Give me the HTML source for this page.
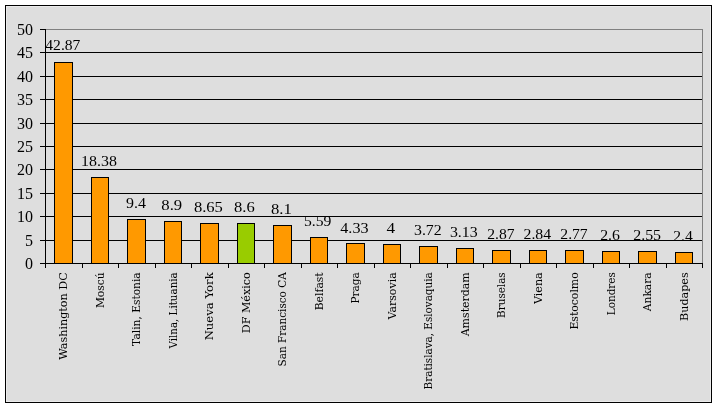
<!DOCTYPE html>
<html><head><meta charset="utf-8"><style>html,body{margin:0;padding:0;background:#fff;}svg{display:block;will-change:transform;}</style></head>
<body><svg width="717" height="407" viewBox="0 0 717 407">
<g shape-rendering="crispEdges">
<rect x="0" y="0" width="717" height="407" fill="#FFFFFF"/>
<rect x="5" y="5" width="707" height="398" fill="#000"/>
<rect x="6" y="6" width="705" height="396" fill="#EBEBEB"/>
<rect x="7" y="7" width="703" height="394" fill="#DEDEDE"/>
<rect x="45" y="29" width="658" height="1" fill="#808080"/>
<rect x="702" y="29" width="1" height="234" fill="#808080"/>
<rect x="45" y="240" width="657" height="1" fill="#000"/>
<rect x="45" y="216" width="657" height="1" fill="#000"/>
<rect x="45" y="193" width="657" height="1" fill="#000"/>
<rect x="45" y="169" width="657" height="1" fill="#000"/>
<rect x="45" y="146" width="657" height="1" fill="#000"/>
<rect x="45" y="123" width="657" height="1" fill="#000"/>
<rect x="45" y="99" width="657" height="1" fill="#000"/>
<rect x="45" y="76" width="657" height="1" fill="#000"/>
<rect x="45" y="52" width="657" height="1" fill="#000"/>
<rect x="40" y="263" width="5" height="1" fill="#000"/>
<rect x="40" y="240" width="5" height="1" fill="#000"/>
<rect x="40" y="216" width="5" height="1" fill="#000"/>
<rect x="40" y="193" width="5" height="1" fill="#000"/>
<rect x="40" y="169" width="5" height="1" fill="#000"/>
<rect x="40" y="146" width="5" height="1" fill="#000"/>
<rect x="40" y="123" width="5" height="1" fill="#000"/>
<rect x="40" y="99" width="5" height="1" fill="#000"/>
<rect x="40" y="76" width="5" height="1" fill="#000"/>
<rect x="40" y="52" width="5" height="1" fill="#000"/>
<rect x="40" y="29" width="5" height="1" fill="#000"/>
<rect x="54" y="62" width="19" height="201" fill="#000"/>
<rect x="55" y="63" width="17" height="200" fill="#FF9900"/>
<rect x="91" y="177" width="18" height="86" fill="#000"/>
<rect x="92" y="178" width="16" height="85" fill="#FF9900"/>
<rect x="127" y="219" width="19" height="44" fill="#000"/>
<rect x="128" y="220" width="17" height="43" fill="#FF9900"/>
<rect x="164" y="221" width="18" height="42" fill="#000"/>
<rect x="165" y="222" width="16" height="41" fill="#FF9900"/>
<rect x="200" y="223" width="19" height="40" fill="#000"/>
<rect x="201" y="224" width="17" height="39" fill="#FF9900"/>
<rect x="237" y="223" width="18" height="40" fill="#000"/>
<rect x="238" y="224" width="16" height="39" fill="#99CC00"/>
<rect x="273" y="225" width="19" height="38" fill="#000"/>
<rect x="274" y="226" width="17" height="37" fill="#FF9900"/>
<rect x="310" y="237" width="18" height="26" fill="#000"/>
<rect x="311" y="238" width="16" height="25" fill="#FF9900"/>
<rect x="346" y="243" width="19" height="20" fill="#000"/>
<rect x="347" y="244" width="17" height="19" fill="#FF9900"/>
<rect x="383" y="244" width="18" height="19" fill="#000"/>
<rect x="384" y="245" width="16" height="18" fill="#FF9900"/>
<rect x="419" y="246" width="19" height="17" fill="#000"/>
<rect x="420" y="247" width="17" height="16" fill="#FF9900"/>
<rect x="456" y="248" width="18" height="15" fill="#000"/>
<rect x="457" y="249" width="16" height="14" fill="#FF9900"/>
<rect x="492" y="250" width="19" height="13" fill="#000"/>
<rect x="493" y="251" width="17" height="12" fill="#FF9900"/>
<rect x="529" y="250" width="18" height="13" fill="#000"/>
<rect x="530" y="251" width="16" height="12" fill="#FF9900"/>
<rect x="565" y="250" width="19" height="13" fill="#000"/>
<rect x="566" y="251" width="17" height="12" fill="#FF9900"/>
<rect x="602" y="251" width="18" height="12" fill="#000"/>
<rect x="603" y="252" width="16" height="11" fill="#FF9900"/>
<rect x="638" y="251" width="19" height="12" fill="#000"/>
<rect x="639" y="252" width="17" height="11" fill="#FF9900"/>
<rect x="675" y="252" width="18" height="11" fill="#000"/>
<rect x="676" y="253" width="16" height="10" fill="#FF9900"/>
<rect x="45" y="29" width="1" height="239" fill="#000"/>
<rect x="45" y="263" width="658" height="1" fill="#000"/>
<rect x="45" y="263" width="1" height="5" fill="#000"/>
<rect x="82" y="263" width="1" height="5" fill="#000"/>
<rect x="118" y="263" width="1" height="5" fill="#000"/>
<rect x="155" y="263" width="1" height="5" fill="#000"/>
<rect x="191" y="263" width="1" height="5" fill="#000"/>
<rect x="228" y="263" width="1" height="5" fill="#000"/>
<rect x="264" y="263" width="1" height="5" fill="#000"/>
<rect x="301" y="263" width="1" height="5" fill="#000"/>
<rect x="337" y="263" width="1" height="5" fill="#000"/>
<rect x="374" y="263" width="1" height="5" fill="#000"/>
<rect x="410" y="263" width="1" height="5" fill="#000"/>
<rect x="447" y="263" width="1" height="5" fill="#000"/>
<rect x="483" y="263" width="1" height="5" fill="#000"/>
<rect x="520" y="263" width="1" height="5" fill="#000"/>
<rect x="556" y="263" width="1" height="5" fill="#000"/>
<rect x="593" y="263" width="1" height="5" fill="#000"/>
<rect x="629" y="263" width="1" height="5" fill="#000"/>
<rect x="666" y="263" width="1" height="5" fill="#000"/>
<rect x="702" y="263" width="1" height="5" fill="#000"/>
</g>
<text x="33.1" y="269.0" text-anchor="end" font-family='"Liberation Serif", serif' font-size="16" fill="#000">0</text>
<text x="33.1" y="246.0" text-anchor="end" font-family='"Liberation Serif", serif' font-size="16" fill="#000">5</text>
<text x="33.1" y="222.0" text-anchor="end" font-family='"Liberation Serif", serif' font-size="16" fill="#000">10</text>
<text x="33.1" y="199.0" text-anchor="end" font-family='"Liberation Serif", serif' font-size="16" fill="#000">15</text>
<text x="33.1" y="175.0" text-anchor="end" font-family='"Liberation Serif", serif' font-size="16" fill="#000">20</text>
<text x="33.1" y="152.0" text-anchor="end" font-family='"Liberation Serif", serif' font-size="16" fill="#000">25</text>
<text x="33.1" y="129.0" text-anchor="end" font-family='"Liberation Serif", serif' font-size="16" fill="#000">30</text>
<text x="33.1" y="105.0" text-anchor="end" font-family='"Liberation Serif", serif' font-size="16" fill="#000">35</text>
<text x="33.1" y="82.0" text-anchor="end" font-family='"Liberation Serif", serif' font-size="16" fill="#000">40</text>
<text x="33.1" y="58.0" text-anchor="end" font-family='"Liberation Serif", serif' font-size="16" fill="#000">45</text>
<text x="33.1" y="35.0" text-anchor="end" font-family='"Liberation Serif", serif' font-size="16" fill="#000">50</text>
<text x="62.85" y="50.4" text-anchor="middle" font-family='"Liberation Serif", serif' font-size="15" textLength="35.10" lengthAdjust="spacingAndGlyphs" fill="#000">42.87</text>
<text x="99.00" y="165.9" text-anchor="middle" font-family='"Liberation Serif", serif' font-size="15" textLength="35.80" lengthAdjust="spacingAndGlyphs" fill="#000">18.38</text>
<text x="135.95" y="208.1" text-anchor="middle" font-family='"Liberation Serif", serif' font-size="15" textLength="19.90" lengthAdjust="spacingAndGlyphs" fill="#000">9.4</text>
<text x="171.75" y="209.9" text-anchor="middle" font-family='"Liberation Serif", serif' font-size="15" textLength="20.90" lengthAdjust="spacingAndGlyphs" fill="#000">8.9</text>
<text x="208.40" y="211.6" text-anchor="middle" font-family='"Liberation Serif", serif' font-size="15" textLength="29.00" lengthAdjust="spacingAndGlyphs" fill="#000">8.65</text>
<text x="244.35" y="211.7" text-anchor="middle" font-family='"Liberation Serif", serif' font-size="15" textLength="20.70" lengthAdjust="spacingAndGlyphs" fill="#000">8.6</text>
<text x="281.40" y="214.2" text-anchor="middle" font-family='"Liberation Serif", serif' font-size="15" textLength="20.80" lengthAdjust="spacingAndGlyphs" fill="#000">8.1</text>
<text x="317.70" y="225.8" text-anchor="middle" font-family='"Liberation Serif", serif' font-size="15" textLength="27.40" lengthAdjust="spacingAndGlyphs" fill="#000">5.59</text>
<text x="354.40" y="232.5" text-anchor="middle" font-family='"Liberation Serif", serif' font-size="15" textLength="28.20" lengthAdjust="spacingAndGlyphs" fill="#000">4.33</text>
<text x="390.70" y="233.0" text-anchor="middle" font-family='"Liberation Serif", serif' font-size="15" textLength="8.60" lengthAdjust="spacingAndGlyphs" fill="#000">4</text>
<text x="427.85" y="235.1" text-anchor="middle" font-family='"Liberation Serif", serif' font-size="15" textLength="27.70" lengthAdjust="spacingAndGlyphs" fill="#000">3.72</text>
<text x="463.80" y="237.4" text-anchor="middle" font-family='"Liberation Serif", serif' font-size="15" textLength="27.80" lengthAdjust="spacingAndGlyphs" fill="#000">3.13</text>
<text x="500.85" y="238.8" text-anchor="middle" font-family='"Liberation Serif", serif' font-size="15" textLength="27.30" lengthAdjust="spacingAndGlyphs" fill="#000">2.87</text>
<text x="537.30" y="238.8" text-anchor="middle" font-family='"Liberation Serif", serif' font-size="15" textLength="27.60" lengthAdjust="spacingAndGlyphs" fill="#000">2.84</text>
<text x="574.00" y="238.8" text-anchor="middle" font-family='"Liberation Serif", serif' font-size="15" textLength="27.40" lengthAdjust="spacingAndGlyphs" fill="#000">2.77</text>
<text x="610.05" y="239.8" text-anchor="middle" font-family='"Liberation Serif", serif' font-size="15" textLength="19.70" lengthAdjust="spacingAndGlyphs" fill="#000">2.6</text>
<text x="647.15" y="240.1" text-anchor="middle" font-family='"Liberation Serif", serif' font-size="15" textLength="27.90" lengthAdjust="spacingAndGlyphs" fill="#000">2.55</text>
<text x="682.95" y="240.8" text-anchor="middle" font-family='"Liberation Serif", serif' font-size="15" textLength="19.50" lengthAdjust="spacingAndGlyphs" fill="#000">2.4</text>
<text transform="translate(67.25,272.3) rotate(-90)" text-anchor="end" font-family='"DejaVu Serif", serif' font-size="11" textLength="87.4" lengthAdjust="spacingAndGlyphs" fill="#000">Washington DC</text>
<text transform="translate(103.75,272.3) rotate(-90)" text-anchor="end" font-family='"DejaVu Serif", serif' font-size="11" textLength="35.8" lengthAdjust="spacingAndGlyphs" fill="#000">Moscú</text>
<text transform="translate(140.25,272.3) rotate(-90)" text-anchor="end" font-family='"DejaVu Serif", serif' font-size="11" textLength="73.6" lengthAdjust="spacingAndGlyphs" fill="#000">Talin, Estonia</text>
<text transform="translate(176.75,272.3) rotate(-90)" text-anchor="end" font-family='"DejaVu Serif", serif' font-size="11" textLength="76.3" lengthAdjust="spacingAndGlyphs" fill="#000">Vilna, Lituania</text>
<text transform="translate(213.25,272.3) rotate(-90)" text-anchor="end" font-family='"DejaVu Serif", serif' font-size="11" textLength="68.0" lengthAdjust="spacingAndGlyphs" fill="#000">Nueva York</text>
<text transform="translate(249.75,272.3) rotate(-90)" text-anchor="end" font-family='"DejaVu Serif", serif' font-size="11" textLength="61.0" lengthAdjust="spacingAndGlyphs" fill="#000">DF México</text>
<text transform="translate(286.25,272.3) rotate(-90)" text-anchor="end" font-family='"DejaVu Serif", serif' font-size="11" textLength="94.1" lengthAdjust="spacingAndGlyphs" fill="#000">San Francisco CA</text>
<text transform="translate(322.75,272.3) rotate(-90)" text-anchor="end" font-family='"DejaVu Serif", serif' font-size="11" textLength="38.0" lengthAdjust="spacingAndGlyphs" fill="#000">Belfast</text>
<text transform="translate(359.25,272.3) rotate(-90)" text-anchor="end" font-family='"DejaVu Serif", serif' font-size="11" textLength="31.2" lengthAdjust="spacingAndGlyphs" fill="#000">Praga</text>
<text transform="translate(395.75,272.3) rotate(-90)" text-anchor="end" font-family='"DejaVu Serif", serif' font-size="11" textLength="47.2" lengthAdjust="spacingAndGlyphs" fill="#000">Varsovia</text>
<text transform="translate(432.25,272.3) rotate(-90)" text-anchor="end" font-family='"DejaVu Serif", serif' font-size="11" textLength="117.1" lengthAdjust="spacingAndGlyphs" fill="#000">Bratislava, Eslovaquia</text>
<text transform="translate(468.75,272.3) rotate(-90)" text-anchor="end" font-family='"DejaVu Serif", serif' font-size="11" textLength="64.0" lengthAdjust="spacingAndGlyphs" fill="#000">Amsterdam</text>
<text transform="translate(505.25,272.3) rotate(-90)" text-anchor="end" font-family='"DejaVu Serif", serif' font-size="11" textLength="45.6" lengthAdjust="spacingAndGlyphs" fill="#000">Bruselas</text>
<text transform="translate(541.75,272.3) rotate(-90)" text-anchor="end" font-family='"DejaVu Serif", serif' font-size="11" textLength="31.8" lengthAdjust="spacingAndGlyphs" fill="#000">Viena</text>
<text transform="translate(578.25,272.3) rotate(-90)" text-anchor="end" font-family='"DejaVu Serif", serif' font-size="11" textLength="57.3" lengthAdjust="spacingAndGlyphs" fill="#000">Estocolmo</text>
<text transform="translate(614.75,272.3) rotate(-90)" text-anchor="end" font-family='"DejaVu Serif", serif' font-size="11" textLength="42.9" lengthAdjust="spacingAndGlyphs" fill="#000">Londres</text>
<text transform="translate(651.25,272.3) rotate(-90)" text-anchor="end" font-family='"DejaVu Serif", serif' font-size="11" textLength="38.9" lengthAdjust="spacingAndGlyphs" fill="#000">Ankara</text>
<text transform="translate(687.75,272.3) rotate(-90)" text-anchor="end" font-family='"DejaVu Serif", serif' font-size="11" textLength="48.7" lengthAdjust="spacingAndGlyphs" fill="#000">Budapes</text>
</svg></body></html>
